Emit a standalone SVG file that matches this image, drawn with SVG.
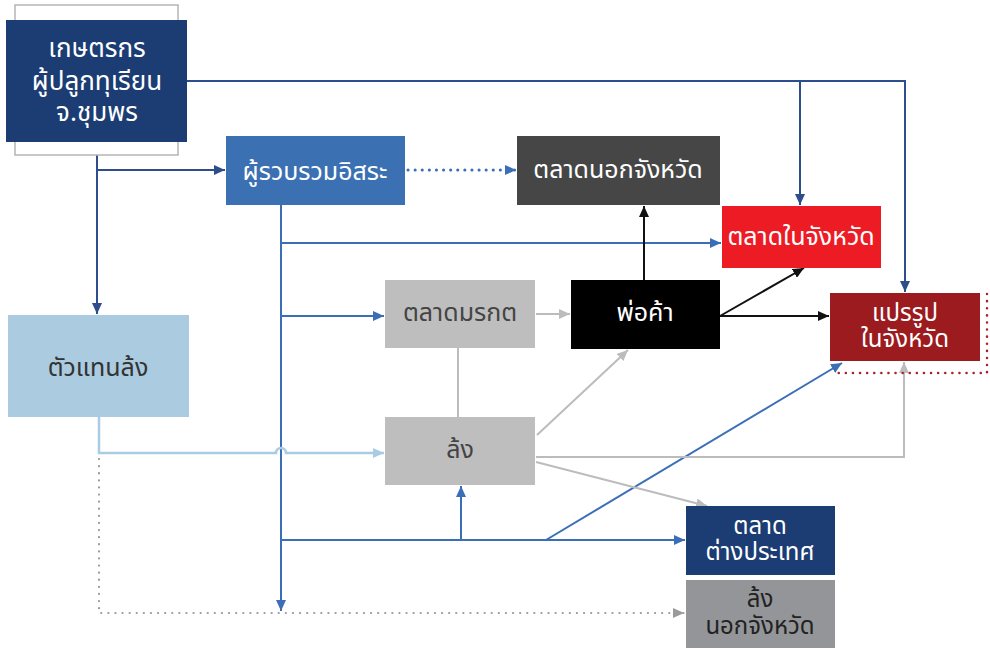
<svg xmlns="http://www.w3.org/2000/svg" width="990" height="650" viewBox="0 0 990 650">
<defs>
<style>
text{font-family:"Noto Sans Thai","Noto Sans","DejaVu Sans",sans-serif;text-anchor:middle;font-size:25px}
.w{fill:#ffffff}
.d{fill:#333333}
.t2{font-size:24px}
.cdb{stroke:#2d4d8c;stroke-width:2;fill:none}
.cmb{stroke:#3a6fb8;stroke-width:2;fill:none}
.clb{stroke:#a9cce3;stroke-width:2.5;fill:none}
.cg{stroke:#bcbcbc;stroke-width:2;fill:none}
.ck{stroke:#111111;stroke-width:2;fill:none}
</style>
<marker id="adb" markerUnits="userSpaceOnUse" markerWidth="12" markerHeight="10" refX="11" refY="5" orient="auto"><path d="M0,0 L11,5 L0,10 Z" fill="#2d4d8c"/></marker>
<marker id="amb" markerUnits="userSpaceOnUse" markerWidth="12" markerHeight="10" refX="11" refY="5" orient="auto"><path d="M0,0 L11,5 L0,10 Z" fill="#3a6fb8"/></marker>
<marker id="alb" markerUnits="userSpaceOnUse" markerWidth="12" markerHeight="10" refX="11" refY="5" orient="auto"><path d="M0,0 L11,5 L0,10 Z" fill="#a9cce3"/></marker>
<marker id="ag" markerUnits="userSpaceOnUse" markerWidth="12" markerHeight="10" refX="11" refY="5" orient="auto"><path d="M0,0 L11,5 L0,10 Z" fill="#bcbcbc"/></marker>
<marker id="agd" markerUnits="userSpaceOnUse" markerWidth="12" markerHeight="10" refX="11" refY="5" orient="auto"><path d="M0,0 L11,5 L0,10 Z" fill="#9a9a9a"/></marker>
<marker id="ak" markerUnits="userSpaceOnUse" markerWidth="12" markerHeight="10" refX="11" refY="5" orient="auto"><path d="M0,0 L11,5 L0,10 Z" fill="#111111"/></marker>
</defs>
<rect width="990" height="650" fill="#ffffff"/>

<g id="connectors">
  <path class="cdb" d="M187,81 H905 V292" marker-end="url(#adb)"/>
  <path class="cdb" d="M800,81 V205" marker-end="url(#adb)"/>
  <path class="cdb" d="M97,142 V314" marker-end="url(#adb)"/>
  <path class="cdb" d="M97,170 H225" marker-end="url(#adb)"/>
  <path d="M408,170 H516" stroke="#3a6fb8" stroke-width="3" stroke-dasharray="0.1 7" stroke-linecap="round" fill="none" marker-end="url(#amb)"/>
  <path class="cmb" d="M281,205 V611" marker-end="url(#amb)"/>
  <path class="cmb" d="M281,243 H721" marker-end="url(#amb)"/>
  <path class="cmb" d="M281,316 H384" marker-end="url(#amb)"/>
  <path class="cmb" d="M281,540 H685" marker-end="url(#amb)"/>
  <path class="cmb" d="M461,540 V486" marker-end="url(#amb)"/>
  <path class="cmb" d="M546,540 L842,363" marker-end="url(#amb)"/>
  <path class="clb" d="M99,417 V453 H276 A5,5 0 0 1 286,453 H384" marker-end="url(#alb)"/>
  <path d="M99,459 V613 H684" stroke="#9a9a9a" stroke-width="2.2" stroke-dasharray="0.1 7" stroke-linecap="round" fill="none" marker-end="url(#agd)"/>
  <path class="cg" d="M536,314 H570" marker-end="url(#ag)"/>
  <path class="cg" d="M458,348 V417"/>
  <path class="cg" d="M537,435 L628,350" marker-end="url(#ag)"/>
  <path class="cg" d="M536,457 H904 V362" marker-end="url(#ag)"/>
  <path class="cg" d="M536,462 L707,506" marker-end="url(#ag)"/>
  <path class="ck" d="M644,280 V206" marker-end="url(#ak)"/>
  <path class="ck" d="M720,316 L804,268" marker-end="url(#ak)"/>
  <path class="ck" d="M720,316 H829" marker-end="url(#ak)"/>
  <path d="M987,294 V373 H838" stroke="#a4262c" stroke-width="2.5" stroke-dasharray="0.1 7" stroke-linecap="round" fill="none"/>
</g>

<g id="farmer">
  <rect x="15" y="5" width="163" height="150" fill="#ffffff" stroke="#b5b5b5" stroke-width="1.5"/>
  <rect x="6" y="20" width="181" height="122" fill="#1b3d73"/>
  <text class="w" x="97" y="57" style="font-size:26px">เกษตรกร</text>
  <text class="w" x="97" y="90" style="font-size:26px">ผู้ปลูกทุเรียน</text>
  <text class="w" x="97" y="121" style="font-size:26px">จ.ชุมพร</text>
</g>
<g id="collector">
  <rect x="226" y="136" width="179" height="69" fill="#3b70b2"/>
  <text class="w" x="315" y="180">ผู้รวบรวมอิสระ</text>
</g>
<g id="market-out">
  <rect x="517" y="136" width="203" height="69" fill="#464646"/>
  <text class="w" x="618" y="178">ตลาดนอกจังหวัด</text>
</g>
<g id="market-in">
  <rect x="722" y="206" width="159" height="62" fill="#ed1c24"/>
  <text class="w" x="801" y="245">ตลาดในจังหวัด</text>
</g>
<g id="processing">
  <rect x="830" y="293" width="150" height="68" fill="#9b1b1f"/>
  <text class="w t2" x="905" y="321">แปรรูป</text>
  <text class="w t2" x="905" y="347">ในจังหวัด</text>
</g>
<g id="agent">
  <rect x="8" y="315" width="181" height="102" fill="#aacbe0"/>
  <text class="d" x="98" y="376">ตัวแทนล้ง</text>
</g>
<g id="morakot">
  <rect x="385" y="280" width="150" height="68" fill="#bebebe"/>
  <text fill="#444444" x="460" y="321">ตลาดมรกต</text>
</g>
<g id="merchant">
  <rect x="571" y="280" width="149" height="69" fill="#000000"/>
  <text class="w" x="645" y="321">พ่อค้า</text>
</g>
<g id="lhong">
  <rect x="385" y="417" width="150" height="68" fill="#bebebe"/>
  <text fill="#444444" x="460" y="458">ล้ง</text>
</g>
<g id="export">
  <rect x="686" y="506" width="149" height="69" fill="#1b3d73"/>
  <text class="w t2" x="760" y="534">ตลาด</text>
  <text class="w t2" x="760" y="560">ต่างประเทศ</text>
</g>
<g id="lhong-out">
  <rect x="686" y="580" width="149" height="68" fill="#939598"/>
  <text class="t2" fill="#222222" x="760" y="607">ล้ง</text>
  <text class="t2" fill="#222222" x="760" y="634">นอกจังหวัด</text>
</g>
</svg>
